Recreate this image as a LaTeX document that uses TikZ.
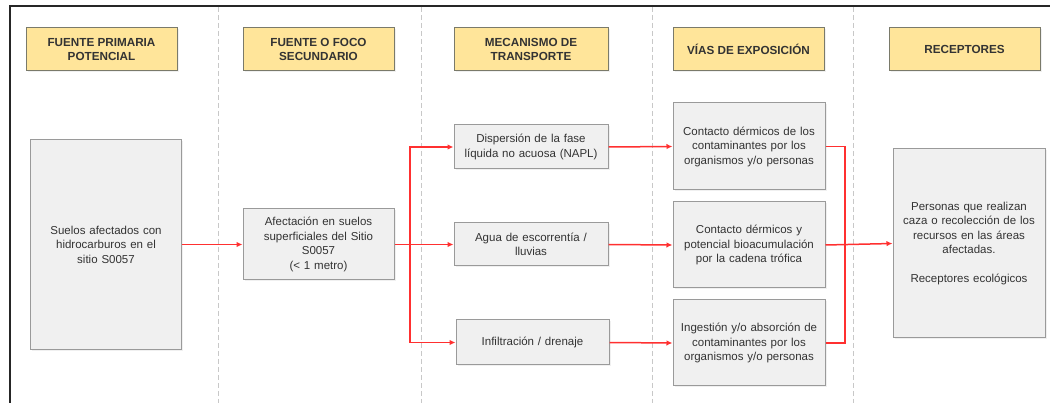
\documentclass[tikz,border=0pt]{standalone}
\usepackage{fontspec}
\setmainfont{Liberation Sans}
\usetikzlibrary{arrows.meta,shadows}
\definecolor{hdrfill}{HTML}{FFE59A}
\definecolor{hdrdraw}{HTML}{7A7A6A}
\definecolor{boxfill}{HTML}{F0F0F0}
\definecolor{boxdraw}{HTML}{9A9A9A}
\definecolor{txt}{HTML}{333333}
\definecolor{conred}{HTML}{FF3030}
\definecolor{sepgray}{HTML}{C8C8C8}
\begin{document}
\begin{tikzpicture}[x=1pt,y=-1pt,
  hdr/.style={draw=hdrdraw,fill=hdrfill,line width=1pt,inner sep=0pt,
    minimum width=151pt,minimum height=43pt,align=center,text=txt,
    font=\fontsize{11.7}{13.5}\selectfont\bfseries,
    drop shadow={opacity=0.12,shadow xshift=1.5pt,shadow yshift=-1.5pt}},
  gbox/.style={draw=boxdraw,fill=boxfill,line width=1pt,inner sep=0pt,
    align=center,text=txt,font=\fontsize{11.5}{14.5}\selectfont,
    drop shadow={opacity=0.12,shadow xshift=1.5pt,shadow yshift=-1.5pt}},
  conn/.style={draw=conred,line width=1.5pt},
  arr/.style={conn,-{Latex[length=6pt,width=5.5pt]}},
  sep/.style={draw=sepgray,line width=1pt,dash pattern=on 5pt off 3pt}
]
\useasboundingbox (0,0) rectangle (1050,403);
% frame
\draw[line width=1.5pt,draw=black!85] (10,403) -- (10,6) -- (1050,6);
% separators
\foreach \xx in {218,421,652,853} \draw[sep] (\xx,7) -- (\xx,403);
% headers
\node[hdr] (h1) at (101.5,49.5) {FUENTE PRIMARIA\\POTENCIAL};
\node[hdr] (h2) at (318.5,49.5) {FUENTE O FOCO\\SECUNDARIO};
\node[hdr,minimum width=154pt] (h3) at (531,49.5) {MECANISMO DE\\TRANSPORTE};
\node[hdr] (h4) at (748.5,49.5) {VÍAS DE EXPOSICIÓN};
\node[hdr] (h5) at (964.5,49.5) {RECEPTORES};
% boxes
\node[gbox,minimum width=151pt,minimum height=210pt,text width=140pt] (A) at (106,244.5)
  {Suelos afectados con\\hidrocarburos en el\\sitio S0057};
\node[gbox,minimum width=151pt,minimum height=71pt,text width=148pt] (B) at (318.5,244.5)
  {Afectación en suelos\\superficiales del Sitio\\S0057\\(< 1 metro)};
\node[gbox,minimum width=154pt,minimum height=44pt,text width=152pt] (C1) at (531,147)
  {Dispersión de la fase\\líquida no acuosa (NAPL)};
\node[gbox,minimum width=154pt,minimum height=43pt,text width=152pt] (C2) at (531,244.5)
  {Agua de escorrentía /\\lluvias};
\node[gbox,minimum width=153pt,minimum height=45pt,text width=152pt] (C3) at (532.5,342.5)
  {Infiltración / drenaje};
\node[gbox,minimum width=152pt,minimum height=87pt,text width=152pt] (D1) at (749,146.5)
  {Contacto dérmicos de los\\contaminantes por los\\organismos y/o personas};
\node[gbox,minimum width=152pt,minimum height=86pt,text width=152pt] (D2) at (749,245)
  {Contacto dérmicos y\\potencial bioacumulación\\por la cadena trófica};
\node[gbox,minimum width=152pt,minimum height=86pt,text width=152pt] (D3) at (749,343)
  {Ingestión y/o absorción de\\contaminantes por los\\organismos y/o personas};
\node[gbox,minimum width=152pt,minimum height=189pt,text width=150pt] (E) at (969,243.5)
  {Personas que realizan\\caza o recolección de los\\recursos en las áreas\\afectadas.\\[14.5pt]Receptores ecológicos};
% connectors
\coordinate (br) at (410,244.5);
\coordinate (mg) at (845,244.5);
\draw[arr] (A.east) -- (B.west);
\draw[arr] (B.east) -- (C2.west);
\draw[arr] (br) |- (C1.west);
\draw[arr] (br) |- (C3.west);
\draw[arr] (C1.east) -- (D1.west);
\draw[arr] (C2.east) -- (D2.west);
\draw[arr] (C3.east) -- (D3.west);
\draw[conn] (D1.east) -| (mg);
\draw[conn] (D3.east) -| (mg);
\draw[arr] (D2.east) -- (E.west);
\end{tikzpicture}
\end{document}
